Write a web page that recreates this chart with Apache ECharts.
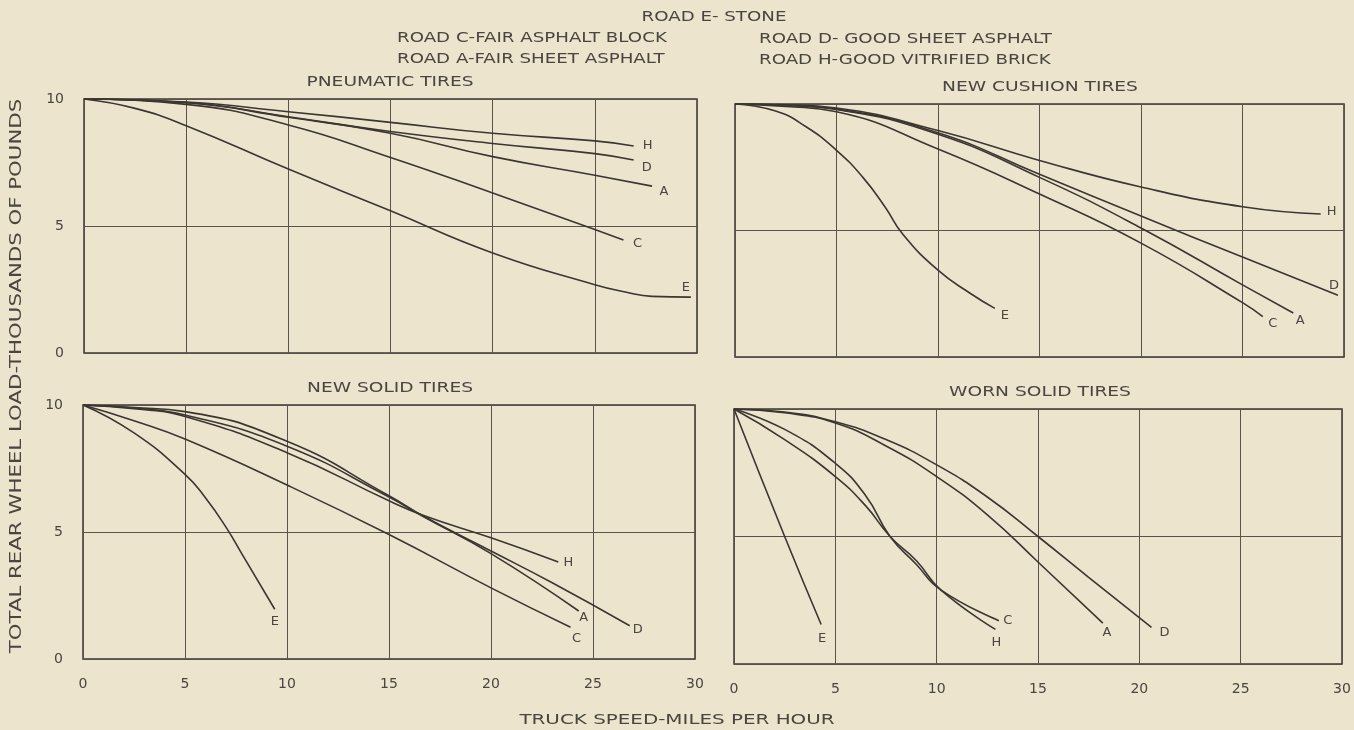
<!DOCTYPE html>
<html><head><meta charset="utf-8">
<script src="https://cdn.jsdelivr.net/npm/echarts@6/dist/echarts.min.js"></script>
<style>html,body{margin:0;padding:0;background:#ece4cd;}#c{width:1354px;height:730px;}</style>
</head><body><div id="c"></div>
<script>
// ---- tick labels / text ----
const xTicks = [0, 5, 10, 15, 20, 25, 30];
const yTicks = [0, 5, 10];
const roadLetters = ['H', 'D', 'A', 'C', 'E'];
const legendLines = ['ROAD E- STONE', 'ROAD C-FAIR ASPHALT BLOCK', 'ROAD A-FAIR SHEET ASPHALT', 'ROAD D- GOOD SHEET ASPHALT', 'ROAD H-GOOD VITRIFIED BRICK'];
const panelTitles = ['PNEUMATIC TIRES', 'NEW CUSHION TIRES', 'NEW SOLID TIRES', 'WORN SOLID TIRES'];
const xAxisName = 'TRUCK SPEED-MILES PER HOUR';
const yAxisName = 'TOTAL REAR WHEEL LOAD-THOUSANDS OF POUNDS';

// ---- data: [speed mph, load thousands lb] ----
const pneumaticH = [[0,10],[5,9.88],[10,9.5],[15,9.08],[20,8.65],[25,8.35],[26.9,8.15]];
const pneumaticD = [[0,10],[5,9.86],[10,9.3],[15,8.72],[20,8.25],[25,7.85],[26.9,7.6]];
const pneumaticA = [[0,10],[5,9.85],[10,9.28],[15,8.65],[20,7.73],[25,7.0],[27.8,6.57]];
const pneumaticC = [[0,10],[5,9.79],[10,8.98],[15,7.7],[20,6.3],[25,4.86],[26.4,4.45]];
const pneumaticE = [[0,10],[2.5,9.63],[5,8.95],[10,7.24],[15,5.6],[20,3.94],[25,2.69],[26.5,2.4],[27.8,2.23],[29.7,2.2]];

const cushionH = [[0,10],[2.5,9.97],[5,9.84],[10,8.95],[15,7.77],[20,6.72],[25,5.94],[28.85,5.65]];
const cushionD = [[0,10],[2.5,9.95],[5,9.8],[10,8.86],[15,7.22],[20,5.57],[25,3.95],[29.7,2.44]];
const cushionA = [[0,10],[2.5,9.94],[5,9.78],[10,8.8],[15,7.1],[20,5.1],[25,2.85],[27.5,1.74]];
const cushionC = [[0,10],[2.5,9.9],[5,9.69],[10,8.22],[15,6.44],[20,4.5],[25,2.15],[26,1.6]];
const cushionE = [[0,10],[2,9.72],[3.5,9.1],[5,8.17],[6.3,7.1],[7.4,5.92],[8.25,4.87],[10,3.43],[11.6,2.51],[12.8,1.92]];

const newSolidH = [[0,10],[2.5,9.85],[5,9.55],[10,8.12],[15,6.23],[16.7,5.65],[20,4.77],[23.3,3.82]];
const newSolidD = [[0,10],[2.5,9.9],[5,9.74],[10,8.57],[15,6.43],[16.7,5.62],[20,4.25],[23,3.0],[26.8,1.31]];
const newSolidA = [[0,10],[2.5,9.88],[5,9.61],[10,8.38],[15,6.38],[16.7,5.6],[20,4.15],[24.3,1.89]];
const newSolidC = [[0,10],[2.5,9.38],[5,8.66],[10,6.85],[15,4.9],[20,2.8],[23.9,1.25]];
const newSolidE = [[0,10],[2.5,8.9],[5,7.27],[6,6.35],[7,5.2],[8,3.85],[9.4,1.96]];

const wornSolidH = [[0,10],[2.5,8.8],[5,7.35],[6.5,6.2],[7.7,5.0],[9,4.05],[10.2,2.91],[12.9,1.36]];
const wornSolidD = [[0,10],[2.5,9.88],[5,9.5],[7.5,8.8],[10,7.81],[12.5,6.55],[15,5.0],[17.5,3.4],[20.6,1.44]];
const wornSolidA = [[0,10],[2.5,9.85],[5,9.45],[7.5,8.55],[10,7.35],[12.5,5.85],[15,4.0],[18.2,1.6]];
const wornSolidC = [[0,10],[2.5,9.2],[5,7.87],[6.5,6.6],[7.7,5.0],[9,3.9],[10.2,2.91],[13.07,1.7]];
const wornSolidE = [[0,10],[2.5,5.0],[4.3,1.55]];

// ---- layout / style (not data) ----
const INK = '#3b3631';
const TXT = '#4a4540';
const FONT = '"DejaVu Sans", sans-serif';
const grids = [
  {left: 84, top: 99, width: 613, height: 254},
  {left: 735, top: 104, width: 609, height: 253},
  {left: 83, top: 405, width: 612, height: 254},
  {left: 734, top: 409, width: 608, height: 255}
];
const panelSeries = [
  {H: pneumaticH, D: pneumaticD, A: pneumaticA, C: pneumaticC, E: pneumaticE},
  {H: cushionH, D: cushionD, A: cushionA, C: cushionC, E: cushionE},
  {H: newSolidH, D: newSolidD, A: newSolidA, C: newSolidC, E: newSolidE},
  {H: wornSolidH, D: wornSolidD, A: wornSolidA, C: wornSolidC, E: wornSolidE}
];
const labelOffsets = [
  {H: [14, 0], D: [13, 8], A: [12, 6], C: [14, 4], E: [-5, -9]},
  {H: [11, -2], D: [-4, -10], A: [7, 8], C: [10, 7], E: [10, 7]},
  {H: [10, 1], D: [8, 4], A: [5, 7], C: [6, 11], E: [0, 12]},
  {H: [1, 13], D: [13, 5], A: [4, 9], C: [9, 0], E: [1, 14]}
];

const chart = echarts.init(document.getElementById('c'));
const step = xTicks[1] - xTicks[0];
const yStep = yTicks[1] - yTicks[0];

const xAxes = grids.map((g, i) => ({
  gridIndex: i, type: 'value', min: xTicks[0], max: xTicks[xTicks.length - 1], interval: step,
  axisLine: {show: false}, axisTick: {show: false},
  axisLabel: {show: i >= 2, margin: 18, color: TXT, fontSize: 14, fontFamily: FONT},
  splitLine: {show: true, lineStyle: {color: '#57524b', width: 1}}
}));
const yAxes = grids.map((g, i) => ({
  gridIndex: i, type: 'value', min: yTicks[0], max: yTicks[yTicks.length - 1], interval: yStep,
  axisLine: {show: false}, axisTick: {show: false},
  axisLabel: {show: i % 2 === 0, margin: 20, color: TXT, fontSize: 14, fontFamily: FONT},
  splitLine: {show: true, lineStyle: {color: '#57524b', width: 1}}
}));

const series = [];
panelSeries.forEach((p, i) => {
  roadLetters.forEach(r => {
    series.push({
      type: 'line', name: panelTitles[i] + ' ' + r, xAxisIndex: i, yAxisIndex: i,
      data: p[r], smooth: 0.5, showSymbol: false, silent: true,
      lineStyle: {color: INK, width: 1.6},
      endLabel: {show: true, formatter: r, offset: labelOffsets[i][r], distance: 0,
        align: 'center', verticalAlign: 'middle', color: TXT, fontSize: 13, fontFamily: FONT}
    });
  });
});

function txt(text, x, y, align, size, sx, opts) {
  return Object.assign({type: 'text', x: x, y: y, silent: true, scaleX: sx,
    style: {text: text, font: size + 'px ' + FONT, fill: TXT, textAlign: align, textVerticalAlign: 'middle', align: align, verticalAlign: 'middle'}}, opts || {});
}

const graphics = [
  txt(legendLines[0], 714, 17, 'center', 14, 1.3),
  txt(legendLines[1], 397, 38, 'left', 14, 1.3),
  txt(legendLines[2], 397, 59, 'left', 14, 1.3),
  txt(legendLines[3], 759, 39, 'left', 14, 1.3),
  txt(legendLines[4], 759, 60, 'left', 14, 1.3),
  txt(panelTitles[0], 390, 82, 'center', 14, 1.33),
  txt(panelTitles[1], 1040, 87, 'center', 14, 1.33),
  txt(panelTitles[2], 390, 388, 'center', 14, 1.33),
  txt(panelTitles[3], 1040, 392, 'center', 14, 1.33),
  txt(xAxisName, 677, 720, 'center', 14, 1.42),
  txt(yAxisName, 17, 376, 'center', 16, 1.33, {rotation: Math.PI / 2})
];

chart.setOption({
  backgroundColor: '#ece4cd',
  animation: false,
  grid: grids.map(g => Object.assign({show: true, borderColor: INK, borderWidth: 1.5, backgroundColor: 'transparent'}, g)),
  xAxis: xAxes,
  yAxis: yAxes,
  series: series,
  graphic: graphics
});
</script>
</body></html>
